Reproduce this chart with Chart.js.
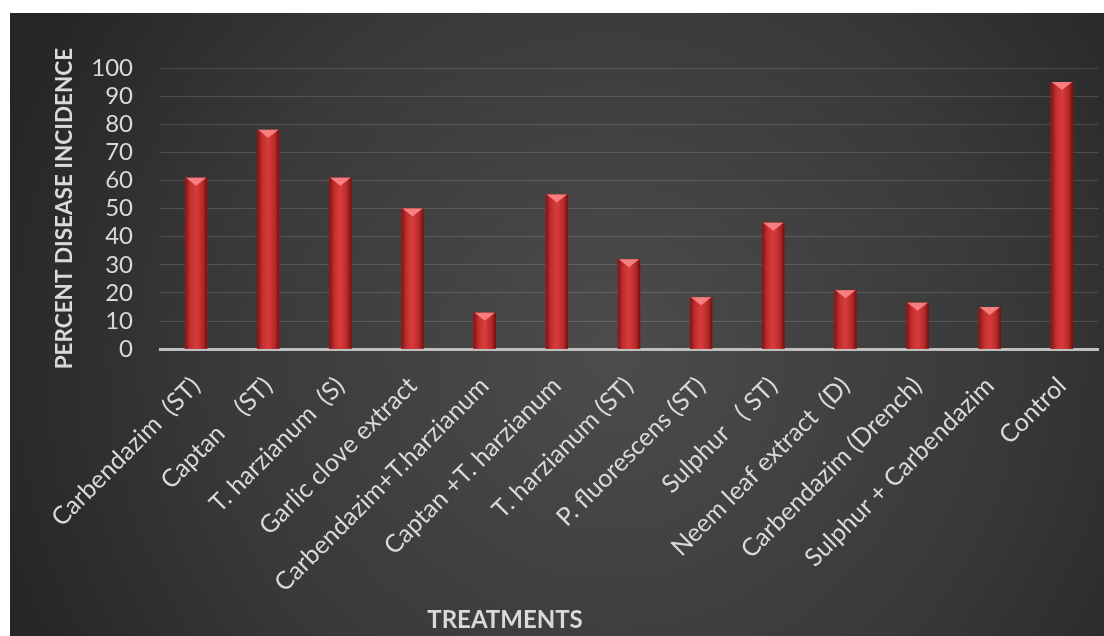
<!DOCTYPE html>
<html>
<head>
<meta charset="utf-8">
<script src="https://cdn.jsdelivr.net/npm/chart.js@4"></script>
<style>
  html, body { margin: 0; padding: 0; background: #fff; }
  #wrap { position: absolute; left: 10px; top: 13px; width: 1094px; height: 623px; }
</style>
</head>
<body>
<div id="wrap"><canvas id="chart"></canvas></div>
<script>
const treatments = [
  'Carbendazim  (ST)', 'Captan    (ST)', 'T. harzianum  (S)', 'Garlic clove extract',
  'Carbendazim+T.harzianum', 'Captan +T. harzianum', 'T. harzianum (ST)', 'P. fluorescens (ST)',
  'Sulphur   ( ST)', 'Neem leaf extract  (D)', 'Carbendazim (Drench)', 'Sulphur + Carbendazim', 'Control'
];
const incidence = [61, 78, 61, 50, 13, 55, 32, 18.5, 45, 21, 16.5, 15, 95];
const yMin = 0, yMax = 100, yStep = 10;
const xTitle = 'TREATMENTS';
const yTitle = 'PERCENT DISEASE INCIDENCE';

const FONT = 'Lato, "Open Sans", sans-serif';
const TEXT = '#d9d9d9';

// dark radial backdrop like the office theme
const backdrop = {
  id: 'backdrop',
  beforeDraw(chart) {
    const { ctx, width, height } = chart;
    const g = ctx.createRadialGradient(width * 0.55, height * 0.55, 0, width * 0.55, height * 0.55, width * 0.6);
    g.addColorStop(0, '#4c4c4c');
    g.addColorStop(0.6, '#393939');
    g.addColorStop(1, '#252525');
    ctx.save();
    ctx.fillStyle = g;
    ctx.fillRect(0, 0, width, height);
    ctx.restore();
  }
};

// shade the bars and put the light bevel on top
const barShade = {
  id: 'barShade',
  afterDatasetsDraw(chart) {
    const { ctx } = chart;
    ctx.save();
    chart.getDatasetMeta(0).data.forEach(bar => {
      const l = bar.x - bar.width / 2, r = bar.x + bar.width / 2;
      const g = ctx.createLinearGradient(l, 0, r, 0);
      g.addColorStop(0, '#7e1414');
      g.addColorStop(0.25, '#c43030');
      g.addColorStop(0.5, '#d83c3c');
      g.addColorStop(0.8, '#b82828');
      g.addColorStop(1, '#6a1010');
      ctx.fillStyle = g;
      ctx.fillRect(l, bar.y, bar.width, bar.base - bar.y);
      ctx.beginPath();
      ctx.moveTo(l + 1, bar.y);
      ctx.lineTo(r - 1, bar.y);
      ctx.lineTo(bar.x, bar.y + 8);
      ctx.closePath();
      ctx.fillStyle = 'rgba(255,140,140,0.85)';
      ctx.fill();
    });
    ctx.restore();
  }
};

const axisTitle = {
  id: 'axisTitle',
  afterDraw(chart) {
    const { ctx } = chart;
    ctx.save();
    ctx.font = 'bold 24px ' + FONT;
    ctx.fillStyle = TEXT;
    ctx.textAlign = 'center';
    ctx.textBaseline = 'middle';
    ctx.fillText(xTitle, 495, 607);
    ctx.restore();
  }
};

new Chart(document.getElementById('chart'), {
  type: 'bar',
  data: {
    labels: treatments,
    datasets: [{ data: incidence, backgroundColor: '#c43030', categoryPercentage: 0.8, barPercentage: 0.39 }]
  },
  plugins: [backdrop, barShade, axisTitle],
  options: {
    responsive: true,
    maintainAspectRatio: false,
    animation: false,
    layout: { padding: { top: 55, right: 6, bottom: 24, left: 5 } },
    plugins: { legend: { display: false }, tooltip: { enabled: false } },
    scales: {
      x: {
        // rotated first label is allowed to run under the y axis
        afterFit: s => { s.paddingLeft = 0; },
        grid: { display: false },
        border: { color: '#bfbfbf', width: 3 },
        ticks: { color: TEXT, font: { family: FONT, size: 25 }, minRotation: 45, maxRotation: 45, autoSkip: false, padding: 14 }
      },
      y: {
        min: yMin, max: yMax,
        afterFit: s => { s.width = 145; },
        grid: { color: 'rgba(255,255,255,0.14)', drawTicks: false },
        border: { display: false },
        ticks: { stepSize: yStep, autoSkip: false, color: TEXT, font: { family: FONT, size: 24 }, padding: 27 },
        title: { display: true, text: yTitle, color: TEXT, font: { family: FONT, size: 22.5, weight: 'bold' }, padding: { top: 36, bottom: 2 } }
      }
    }
  }
});
</script>
</body>
</html>
